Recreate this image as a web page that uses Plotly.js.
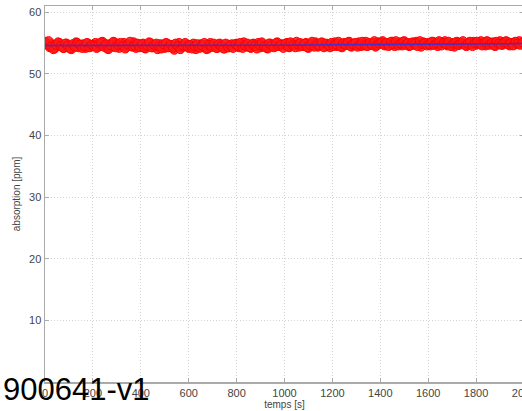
<!DOCTYPE html>
<html><head><meta charset="utf-8">
<script src="https://cdn.plot.ly/plotly-3.0.1.min.js"></script>
<style>html,body{margin:0;padding:0;overflow:hidden;background:#fff;width:522px;height:411px}</style>
</head><body><div id="chart"></div>
<script>
const times = [0,10,20,30,40,50,60,70,80,90,100,110,120,130,140,150,160,170,180,190,
200,210,220,230,240,250,260,270,280,290,300,310,320,330,340,350,360,370,380,390,
400,410,420,430,440,450,460,470,480,490,500,510,520,530,540,550,560,570,580,590,
600,610,620,630,640,650,660,670,680,690,700,710,720,730,740,750,760,770,780,790,
800,810,820,830,840,850,860,870,880,890,900,910,920,930,940,950,960,970,980,990,
1000,1010,1020,1030,1040,1050,1060,1070,1080,1090,1100,1110,1120,1130,1140,1150,1160,1170,1180,1190,
1200,1210,1220,1230,1240,1250,1260,1270,1280,1290,1300,1310,1320,1330,1340,1350,1360,1370,1380,1390,
1400,1410,1420,1430,1440,1450,1460,1470,1480,1490,1500,1510,1520,1530,1540,1550,1560,1570,1580,1590,
1600,1610,1620,1630,1640,1650,1660,1670,1680,1690,1700,1710,1720,1730,1740,1750,1760,1770,1780,1790,
1800,1810,1820,1830,1840,1850,1860,1870,1880,1890,1900,1910,1920,1930,1940,1950,1960,1970,1980,1990,2000];
const absorption = [55.2,54.9,54.3,54.8,54.1,54.6,55.0,54.4,54.2,54.9,54.5,54.0,54.7,55.1,54.3,54.6,54.8,54.2,54.9,54.4,
54.7,55.0,54.3,54.5,55.2,54.6,54.1,54.8,54.4,55.1,54.9,54.2,54.6,55.0,54.3,54.7,54.5,55.1,54.2,54.8,
54.4,54.9,54.1,54.6,55.0,54.3,54.7,54.0,54.8,54.5,54.2,54.9,54.4,54.6,53.9,54.7,55.0,54.3,54.5,54.8,
54.2,54.6,54.9,54.0,54.5,54.8,54.3,54.7,54.1,55.0,54.4,54.6,54.2,54.9,54.5,54.1,54.7,54.3,54.8,54.6,
54.9,54.3,54.7,55.1,54.4,54.6,54.2,54.9,54.5,55.0,54.3,54.8,54.6,54.1,54.9,54.7,54.4,55.1,54.5,54.8,
54.6,55.0,54.3,54.9,54.7,55.2,54.4,54.8,54.5,55.0,54.2,54.9,54.6,55.1,54.4,54.7,55.0,54.5,54.8,54.3,
54.8,55.1,54.5,54.9,54.3,55.0,54.7,55.2,54.4,54.8,54.6,55.1,54.5,54.9,55.2,54.6,54.8,55.0,54.4,55.1,
54.9,55.3,54.6,55.0,54.7,55.2,54.5,54.9,55.1,54.6,55.3,54.8,54.5,55.0,54.7,55.2,54.9,54.4,55.1,54.8,
55.0,54.6,55.2,54.8,54.5,55.1,54.9,55.3,54.6,54.8,55.0,54.4,55.2,54.7,55.0,54.9,54.5,55.1,54.8,55.2,
54.7,55.0,55.3,54.8,54.6,55.2,54.9,55.1,54.5,55.0,55.3,54.7,54.9,55.2,54.6,55.0,55.1,54.8,55.3,54.9,55.0];
const times2 = [5,15,25,35,45,55,65,75,85,95,105,115,125,135,145,155,165,175,185,195,
205,215,225,235,245,255,265,275,285,295,305,315,325,335,345,355,365,375,385,395,
405,415,425,435,445,455,465,475,485,495,505,515,525,535,545,555,565,575,585,595,
605,615,625,635,645,655,665,675,685,695,705,715,725,735,745,755,765,775,785,795,
805,815,825,835,845,855,865,875,885,895,905,915,925,935,945,955,965,975,985,995,
1005,1015,1025,1035,1045,1055,1065,1075,1085,1095,1105,1115,1125,1135,1145,1155,1165,1175,1185,1195,
1205,1215,1225,1235,1245,1255,1265,1275,1285,1295,1305,1315,1325,1335,1345,1355,1365,1375,1385,1395,
1405,1415,1425,1435,1445,1455,1465,1475,1485,1495,1505,1515,1525,1535,1545,1555,1565,1575,1585,1595,
1605,1615,1625,1635,1645,1655,1665,1675,1685,1695,1705,1715,1725,1735,1745,1755,1765,1775,1785,1795,
1805,1815,1825,1835,1845,1855,1865,1875,1885,1895,1905,1915,1925,1935,1945,1955,1965,1975,1985,1995];
const absorption2 = [54.8,55.3,54.4,54.0,54.7,55.1,54.5,54.2,54.9,54.6,54.1,54.8,54.4,55.0,54.7,54.2,54.5,55.0,54.3,54.7,
54.5,54.2,54.9,55.1,54.4,54.8,54.0,54.6,55.2,54.3,54.7,55.0,54.5,54.1,54.8,55.2,54.4,54.6,54.9,54.3,
54.8,54.2,54.6,55.1,54.3,54.7,54.9,54.4,54.1,54.8,55.0,54.3,54.7,54.2,54.9,54.5,54.0,54.6,55.0,54.4,
54.7,54.1,54.5,54.8,54.2,54.6,55.0,54.0,54.7,54.4,54.9,54.2,54.8,54.5,54.1,54.9,54.3,54.6,54.2,54.8,
54.5,55.0,54.2,54.6,54.9,54.3,54.8,54.5,54.1,54.7,55.1,54.4,54.2,54.9,54.6,54.3,55.0,54.5,54.7,54.2,
54.9,54.4,55.1,54.6,54.3,54.8,55.0,54.5,54.9,54.3,54.7,55.2,54.4,54.8,54.6,55.1,54.3,54.9,54.6,55.0,
54.5,54.8,55.2,54.4,54.9,54.7,55.1,54.5,54.8,55.0,54.4,54.7,55.2,54.6,54.5,55.0,54.7,55.3,54.6,54.9,
55.1,54.7,55.0,54.5,55.2,54.8,55.3,54.6,54.9,55.2,54.7,55.0,54.6,55.1,54.9,54.5,55.3,54.8,55.0,54.6,
54.8,55.2,54.7,55.0,55.3,54.6,55.0,54.8,55.2,54.5,54.9,55.1,54.7,55.0,55.3,54.6,54.9,55.2,54.5,55.0,
55.2,54.8,54.6,55.1,55.3,54.7,55.0,54.6,55.2,54.9,54.7,55.1,55.3,54.8,55.0,54.6,55.2,54.9,54.7,55.1];
const fitTimes = [0,200,400,600,800,1000,1200,1400,1600,1800,2000];
const fitValues = [54.6,54.6,54.55,54.5,54.55,54.62,54.7,54.78,54.82,54.86,54.9];
const xTicks = [0,200,400,600,800,1000,1200,1400,1600,1800,2000];
const yTicks = [10,20,30,40,50,60];
const xTitle = 'temps [s]';
const yTitle = 'absorption [ppm]';
const stamp = '900641-v1';

const markerStyle = {symbol: 'circle', size: 9, color: 'rgba(255,25,25,0.85)', line: {width: 1, color: '#ff0000'}};
const traces = [
  {x: times, y: absorption, type: 'scatter', mode: 'markers', marker: markerStyle,
   showlegend: false, hoverinfo: 'skip'},
  {x: times2, y: absorption2, type: 'scatter', mode: 'markers', marker: markerStyle,
   showlegend: false, hoverinfo: 'skip'},
  {x: fitTimes, y: fitValues, type: 'scatter', mode: 'lines',
   line: {color: '#4030d0', width: 1.5}, showlegend: false, hoverinfo: 'skip'}
];
const tickFont = {family: 'Liberation Sans, Arial', size: 11, color: '#444'};
const axisCommon = {
  showline: true, linecolor: '#aaa', linewidth: 1.5, mirror: 'ticks',
  ticks: 'inside', ticklen: 4, tickcolor: '#aaa', ticklabeloverflow: 'allow',
  showgrid: true, gridcolor: '#d4d4d4', griddash: '1px,2px', gridwidth: 1,
  zeroline: false, tickfont: tickFont
};
const layout = {
  width: 530, height: 411,
  margin: {l: 45, r: 6, t: 6, b: 29},
  paper_bgcolor: '#fff', plot_bgcolor: '#fff',
  xaxis: Object.assign({}, axisCommon, {range: [0, 2000], tickvals: xTicks, ticktext: xTicks.map(String),
    title: {text: xTitle, font: {family: 'Liberation Sans, Arial', size: 10, color: '#444'}, standoff: 2}}),
  yaxis: Object.assign({}, axisCommon, {range: [0, 61], tickvals: yTicks, ticktext: yTicks.map(String),
    title: {text: yTitle, font: {family: 'Liberation Sans, Arial', size: 10, color: '#444'}, standoff: 6}}),
  annotations: [{text: stamp, xref: 'paper', yref: 'paper', x: -44/479, y: -8/376,
    xanchor: 'left', yanchor: 'middle', showarrow: false,
    font: {family: 'Liberation Sans, Arial', size: 31, color: '#000'}}]
};
Plotly.newPlot('chart', traces, layout, {staticPlot: true, displayModeBar: false});
</script></body></html>
